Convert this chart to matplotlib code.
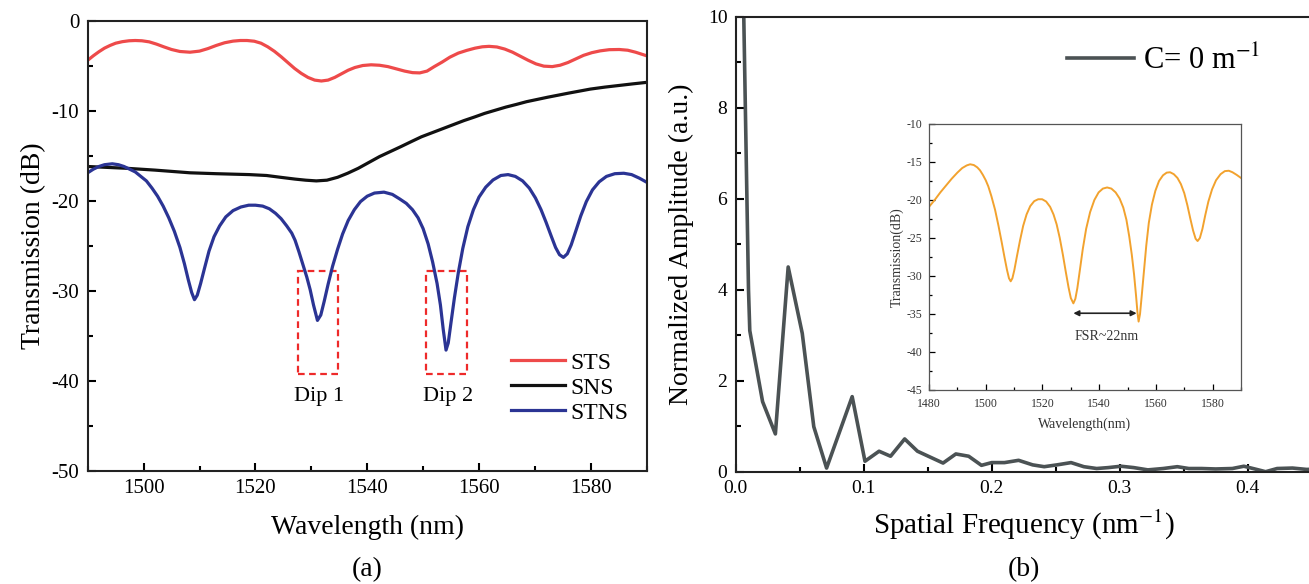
import matplotlib
matplotlib.use("Agg")
import matplotlib.pyplot as plt
from matplotlib.patches import Rectangle
from matplotlib.ticker import MultipleLocator

plt.rcParams['font.family'] = ['Liberation Serif', 'DejaVu Serif']
plt.rcParams['mathtext.fontset'] = 'stix'
plt.rcParams['axes.unicode_minus'] = False

# (a) espectros de transmisión
wl_sts = [1490, 1491, 1492, 1493, 1494, 1495, 1496.2, 1497.4, 1498.5, 1499.7, 1501, 1502.3,
          1503.6, 1505, 1506.5, 1508.3, 1510, 1511.5, 1513, 1514.5, 1516, 1517.3, 1518.5,
          1519.8, 1521, 1522.2, 1523.4, 1524.6, 1525.8, 1527, 1528.2, 1529.4, 1530.6, 1531.8,
          1533, 1534.2, 1535.4, 1536.6, 1537.8, 1539.2, 1540.7, 1542.2, 1543.7, 1545.2,
          1546.7, 1548.1, 1549.4, 1550.7, 1552, 1553.4, 1554.8, 1556.3, 1557.8, 1559.3,
          1560.6, 1561.8, 1563.2, 1564.6, 1566, 1567.4, 1568.8, 1570.2, 1571.6, 1573.1,
          1574.5, 1575.9, 1577.3, 1578.7, 1580.2, 1581.7, 1583.3, 1585.1, 1586.6, 1588,
          1589, 1590]
tr_sts = [-4.4, -3.9, -3.45, -3.05, -2.75, -2.5, -2.33, -2.23, -2.2, -2.23, -2.35, -2.6,
          -2.9, -3.2, -3.42, -3.5, -3.38, -3.1, -2.75, -2.45, -2.27, -2.2, -2.2,
          -2.28, -2.5, -2.9, -3.4, -4.0, -4.65, -5.3, -5.85, -6.3, -6.6, -6.7,
          -6.6, -6.3, -5.9, -5.5, -5.2, -4.98, -4.9, -4.95, -5.1, -5.35,
          -5.6, -5.77, -5.8, -5.6, -5.1, -4.6, -4.05, -3.6, -3.3, -3.05,
          -2.9, -2.85, -2.92, -3.15, -3.5, -3.95, -4.4, -4.8, -5.05, -5.1,
          -4.95, -4.65, -4.25, -3.85, -3.55, -3.35, -3.22, -3.2, -3.28, -3.5,
          -3.7, -3.9]

wl_sns = [1490, 1497, 1502, 1508.3, 1513, 1518.9, 1522, 1524.5, 1527.1, 1529, 1530.9, 1532.8,
          1534.7, 1536.5, 1538.4, 1540.3, 1542.2, 1544.1, 1546, 1548, 1549.7, 1551.6, 1553.5,
          1555.4, 1557.3, 1559.2, 1561, 1562.9, 1564.8, 1566.7, 1568.5, 1570.4, 1572.3,
          1574.2, 1576, 1578, 1579.9, 1582.5, 1585, 1587.5, 1590]
tr_sns = [-16.2, -16.4, -16.6, -16.9, -17.0, -17.1, -17.2, -17.4, -17.6, -17.72, -17.8, -17.72,
          -17.4, -16.95, -16.4, -15.75, -15.1, -14.55, -14.0, -13.4, -12.9, -12.45, -12.0,
          -11.55, -11.1, -10.7, -10.3, -9.95, -9.6, -9.3, -9.0, -8.75, -8.5,
          -8.27, -8.05, -7.82, -7.6, -7.38, -7.2, -7.02, -6.85]

wl_stns = [1490, 1491, 1492, 1493, 1494.4, 1495.5, 1496.5, 1497.5, 1498.5, 1499.5, 1500.5,
           1501.5, 1502.5, 1503.5, 1504.5, 1505.5, 1506.5, 1507.3, 1508, 1508.6, 1509.1,
           1509.6, 1510.2, 1510.9, 1511.7, 1512.6, 1513.6, 1514.7, 1516, 1517.4, 1518.8,
           1520, 1521.3, 1522.5, 1523.6, 1524.6, 1525.6, 1526.5, 1527.1, 1527.8, 1528.5,
           1529.2, 1529.8, 1530.4, 1531.1, 1531.7, 1532.3, 1533, 1533.8, 1534.7, 1535.6,
           1536.6, 1537.7, 1538.8, 1540, 1541.3, 1543, 1544.5, 1545.8, 1547, 1548.1, 1549.1,
           1550, 1550.9, 1551.7, 1552.5, 1553.1, 1553.6, 1554.1, 1554.5, 1555, 1555.6, 1556.3,
           1557.1, 1558, 1559, 1560, 1561.2, 1562.5, 1563.9, 1565.2, 1566.5, 1567.8, 1569,
           1570.1, 1571.1, 1572, 1572.9, 1573.7, 1574.4, 1575.1, 1575.8, 1576.5, 1577.3,
           1578.2, 1579.2, 1580.3, 1581.5, 1582.8, 1584.3, 1585.9, 1587.3, 1588.7, 1590]
tr_stns = [-16.9, -16.5, -16.2, -16.0, -15.9, -16.0, -16.2, -16.5, -16.8, -17.3, -17.8,
           -18.6, -19.5, -20.6, -21.9, -23.4, -25.2, -27.0, -28.8, -30.2, -31.0,
           -30.5, -29.2, -27.5, -25.6, -24.0, -22.8, -21.8, -21.1, -20.7, -20.5,
           -20.5, -20.6, -20.9, -21.4, -22.0, -22.8, -23.6, -24.4, -25.7, -27.1,
           -28.5, -29.9, -31.6, -33.3, -32.7, -31.2, -29.3, -27.3, -25.4, -23.7,
           -22.2, -21.0, -20.1, -19.5, -19.15, -19.05, -19.3, -19.8, -20.3, -21.0, -21.9,
           -23.1, -24.8, -26.8, -29.2, -31.6, -34.3, -36.6, -35.8, -33.5, -30.8, -28.0,
           -25.3, -22.9, -21.0, -19.6, -18.5, -17.7, -17.2, -17.1, -17.3, -17.8, -18.6,
           -19.7, -21.0, -22.4, -23.9, -25.2, -26.0, -26.3, -25.9, -24.9, -23.4,
           -21.7, -20.1, -18.8, -17.9, -17.3, -17.0, -16.95, -17.1, -17.5, -17.95]

# cajas de los dips (lambda inicial, lambda final) y límites en dB
dip_boxes = [(1527.7, 1534.7), (1550.6, 1557.8)]
dip_tr = (-39.3, -27.8)
dip_labels = ['Dip 1', 'Dip 2']
dip_label_wl = [1531.3, 1554.5]

# (b) espectro de frecuencia espacial
freq = [0.006, 0.010, 0.011, 0.021, 0.031, 0.041, 0.052, 0.061, 0.071, 0.091, 0.101, 0.112,
        0.121, 0.132, 0.142, 0.162, 0.172, 0.182, 0.192, 0.200, 0.210, 0.221, 0.232, 0.241,
        0.251, 0.262, 0.272, 0.282, 0.291, 0.301, 0.311, 0.322, 0.334, 0.345, 0.354, 0.364,
        0.375, 0.388, 0.397, 0.407, 0.414, 0.423, 0.435, 0.446, 0.46]
amp = [10.5, 4.0, 3.1, 1.54, 0.83, 4.5, 3.04, 0.99, 0.08, 1.65, 0.23, 0.45,
       0.34, 0.72, 0.45, 0.19, 0.39, 0.34, 0.14, 0.20, 0.20, 0.25, 0.15, 0.11,
       0.15, 0.20, 0.11, 0.07, 0.09, 0.12, 0.09, 0.04, 0.07, 0.11, 0.07, 0.07,
       0.06, 0.07, 0.12, 0.05, 0.0, 0.07, 0.08, 0.05, 0.06]

# inset: espectro STNS
wl_in = [1480, 1482, 1484, 1486, 1488, 1490, 1491.7, 1493.3, 1494.5, 1495.8, 1497, 1498,
         1499, 1500, 1500.9, 1502, 1503.3, 1504.5, 1505.6, 1506.6, 1507.5, 1508.2, 1508.8,
         1509.4, 1510.1, 1511, 1512.1, 1513.2, 1514.4, 1515.7, 1517.1, 1518.5, 1519.9,
         1521.3, 1522.7, 1523.9, 1525, 1526.1, 1527.2, 1528.2, 1529.2, 1530, 1530.9,
         1531.6, 1532.3, 1533.2, 1534.2, 1535.4, 1536.8, 1538.3, 1539.8, 1541.3, 1542.8,
         1544.3, 1545.8, 1547.2, 1548.5, 1549.6, 1550.6, 1551.5, 1552.3, 1553, 1553.5,
         1553.9, 1554.4, 1555, 1555.8, 1556.6, 1557.5, 1558.6, 1559.8, 1561.1, 1562.5,
         1563.8, 1565, 1566.3, 1567.6, 1568.8, 1570, 1571.1, 1572.1, 1573.1, 1574, 1574.7,
         1575.5, 1576.4, 1577.4, 1578.5, 1579.8, 1581.2, 1582.8, 1584.3, 1585.7, 1587,
         1588.5, 1590]
tr_in = [-20.9, -20.0, -19.0, -18.1, -17.2, -16.4, -15.8, -15.45, -15.3, -15.4, -15.7, -16.1,
         -16.7, -17.4, -18.2, -19.5, -21.3, -23.4, -25.5, -27.5, -29.2, -30.3, -30.7,
         -30.3, -29.2, -27.4, -25.3, -23.4, -21.9, -20.8, -20.15, -19.9, -19.9,
         -20.2, -20.9, -21.9, -23.2, -25.0, -27.2, -29.4, -31.5, -32.9, -33.6,
         -33.0, -31.6, -29.2, -26.5, -23.8, -21.6, -20.0, -19.0, -18.5, -18.35,
         -18.5, -19.0, -19.8, -21.0, -22.6, -24.8, -27.2, -29.8, -32.6, -34.8,
         -36.0, -35.0, -32.6, -29.3, -26.0, -23.0, -20.6, -18.8, -17.5, -16.75,
         -16.4, -16.35, -16.6, -17.1, -17.9, -19.1, -20.7, -22.4, -24.0, -25.1, -25.4,
         -25.0, -23.8, -22.0, -20.2, -18.6, -17.4, -16.6, -16.2, -16.15, -16.35,
         -16.7, -17.1]
fsr = (1530.9, 1553.2)

W, H = 1309, 584
fig = plt.figure(figsize=(W / 100, H / 100), dpi=100)

def px_axes(x0, y0, x1, y1):
    # rectángulo en píxeles (origen arriba a la izquierda)
    return fig.add_axes([x0 / W, 1 - y1 / H, (x1 - x0) / W, (y1 - y0) / H])

def estilo(ax, lw=1.5, ln=6, fs=15):
    for s in ax.spines.values():
        s.set_linewidth(lw)
        s.set_color('#222222')
    ax.tick_params(which='both', direction='in', top=False, right=False, width=lw,
                   labelsize=fs, pad=6)
    ax.tick_params(which='major', length=ln)
    ax.tick_params(which='minor', length=ln * 0.55)

# ---- (a)
ax1 = px_axes(87.7, 20.7, 646.7, 470.7)
ax1.plot(wl_sts, tr_sts, color='#EE4A4A', lw=2.3, label='STS')
ax1.plot(wl_sns, tr_sns, color='#111111', lw=2.3, label='SNS')
ax1.plot(wl_stns, tr_stns, color='#2B3494', lw=2.3, label='STNS')
for (a, b), txt, xt in zip(dip_boxes, dip_labels, dip_label_wl):
    ax1.add_patch(Rectangle((a, dip_tr[0]), b - a, dip_tr[1] - dip_tr[0], fill=False,
                            ec='#EE2A2A', lw=1.6, ls=(0, (3, 2))))
    ax1.text(xt, -41.7, txt, ha='center', va='center', fontsize=16)
ax1.set_xlim(1490, 1590)
ax1.set_ylim(-50, 0)
ax1.xaxis.set_major_locator(MultipleLocator(20))
ax1.xaxis.set_minor_locator(MultipleLocator(10))
ax1.yaxis.set_major_locator(MultipleLocator(10))
ax1.yaxis.set_minor_locator(MultipleLocator(5))
estilo(ax1)
ax1.set_xlabel('Wavelength (nm)', fontsize=20, labelpad=12)
ax1.set_ylabel('Transmission (dB)', fontsize=20, labelpad=4)
ax1.legend(loc='center left', bbox_to_anchor=(0.757, 0.184), frameon=False, fontsize=17,
           handlelength=2.3, handletextpad=0.2, labelspacing=0.15, borderpad=0,
           borderaxespad=0)
fig.text(367 / W, 1 - 570 / H, '(a)', ha='center', va='center', fontsize=20)

# ---- (b)
ax2 = px_axes(735.7, 16.7, 735.7 + 0.45 * 1280, 471.7)
ax2.plot(freq, amp, color='#4B5254', lw=2.6, label='C= 0 m$^{-1}$')
ax2.set_xlim(0, 0.45)
ax2.set_ylim(0, 10)
ax2.xaxis.set_major_locator(MultipleLocator(0.1))
ax2.xaxis.set_minor_locator(MultipleLocator(0.05))
ax2.yaxis.set_major_locator(MultipleLocator(2))
ax2.yaxis.set_minor_locator(MultipleLocator(1))
estilo(ax2, fs=14)
ax2.set_xticks([0.0, 0.1, 0.2, 0.3, 0.4])
ax2.set_xticklabels(['0.0', '0.1', '0.2', '0.3', '0.4'])
ax2.set_xlabel('Spatial Frequency (nm$^{-1}$)', fontsize=21, labelpad=8)
ax2.set_ylabel('Normalized Amplitude (a.u.)', fontsize=20, labelpad=10)
ax2.legend(loc='center left', bbox_to_anchor=(0.575, 0.903), frameon=False, fontsize=22,
           handlelength=2.2, handletextpad=0.3, borderpad=0, borderaxespad=0)
fig.text(1024 / W, 1 - 570 / H, '(b)', ha='center', va='center', fontsize=20)

# ---- inset
ax3 = px_axes(929, 124, 1241, 390)
ax3.plot(wl_in, tr_in, color='#F2A22E', lw=1.4)
ax3.annotate('', xy=(fsr[1], -34.9), xytext=(fsr[0], -34.9),
             arrowprops=dict(arrowstyle='<|-|>', color='#222222', lw=1.2,
                             shrinkA=0, shrinkB=0, mutation_scale=8))
ax3.text(1542.7, -37.9, 'FSR~22nm', ha='center', va='center', fontsize=10, color='#333333')
ax3.set_xlim(1480, 1590)
ax3.set_ylim(-45, -10)
ax3.xaxis.set_major_locator(MultipleLocator(20))
ax3.xaxis.set_minor_locator(MultipleLocator(10))
ax3.yaxis.set_major_locator(MultipleLocator(5))
ax3.yaxis.set_minor_locator(MultipleLocator(2.5))
estilo(ax3, lw=0.9, ln=4, fs=8.5)
for s in ax3.spines.values():
    s.set_color('#555555')
ax3.tick_params(axis='x', labelcolor='#333333', pad=6)
ax3.tick_params(axis='y', labelcolor='#333333', pad=5)
ax3.set_xlabel('Wavelength(nm)', fontsize=10, color='#333333', labelpad=5)
ax3.set_ylabel('Transmission(dB)', fontsize=10, color='#333333', labelpad=2)

fig.savefig('out.png', dpi=100)
